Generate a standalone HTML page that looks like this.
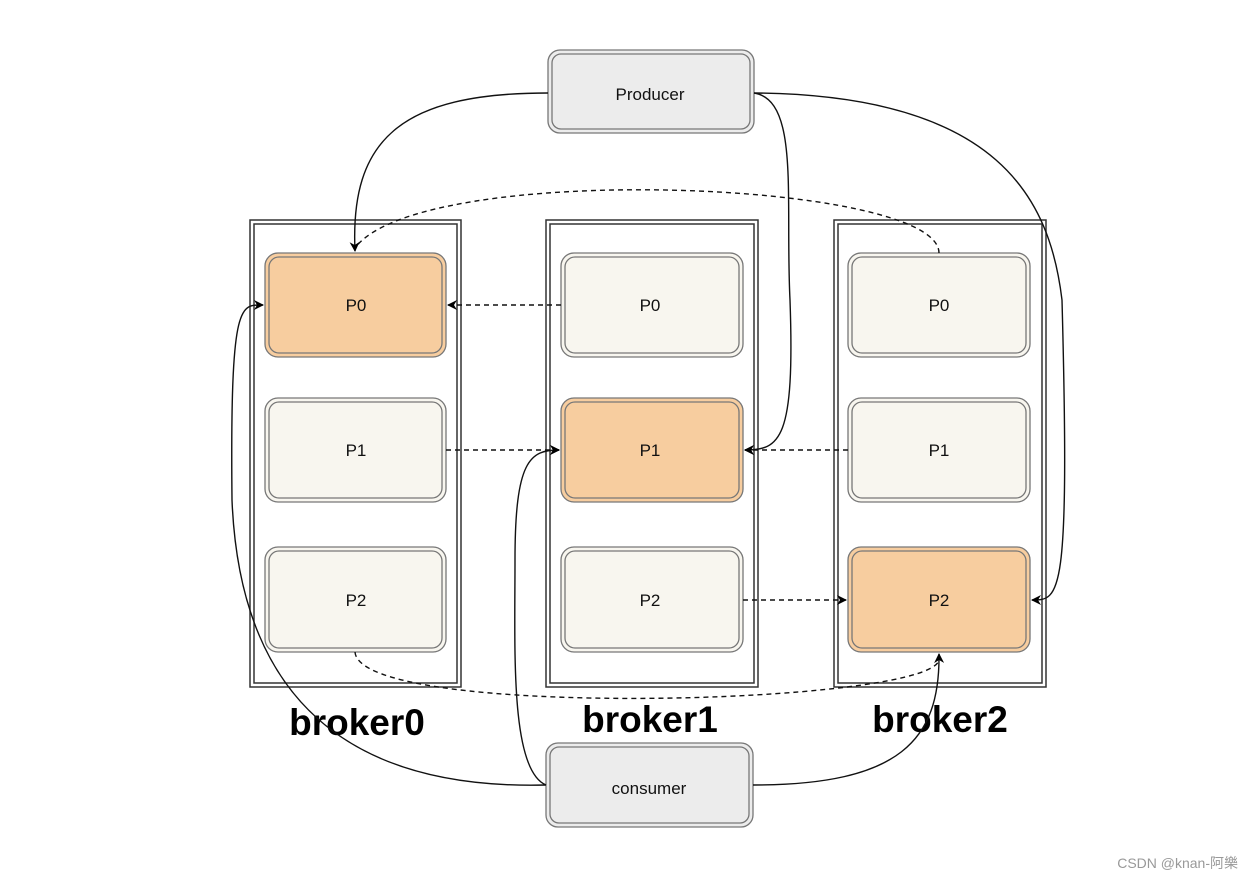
<!DOCTYPE html>
<html><head><style>body{margin:0;background:#fff}svg{display:block}text{font-family:"Liberation Sans",Arial,sans-serif}</style></head><body>
<svg width="1252" height="880" viewBox="0 0 1252 880" xmlns="http://www.w3.org/2000/svg">
<defs>
<marker id="a" markerWidth="10" markerHeight="10" refX="9" refY="5" orient="auto" markerUnits="userSpaceOnUse"><path d="M0,0 L10,5 L0,10 L3,5 Z" fill="#000"/></marker>
</defs>
<g fill="none" stroke="#333" stroke-width="1.5">
<rect x="250" y="220" width="211" height="467"/><rect x="254" y="224" width="203" height="459"/>
<rect x="546" y="220" width="212" height="467"/><rect x="550" y="224" width="204" height="459"/>
<rect x="834" y="220" width="212" height="467"/><rect x="838" y="224" width="204" height="459"/>
</g>
<g stroke="#777" stroke-width="1.3">
<rect x="548" y="50" width="206" height="83" rx="12" fill="#ececec"/><rect x="552" y="54" width="198" height="75" rx="9" fill="#ececec"/>
<rect x="546" y="743" width="207" height="84" rx="12" fill="#ececec"/><rect x="550" y="747" width="199" height="76" rx="9" fill="#ececec"/>
</g>
<g stroke="#777" stroke-width="1.3">
<g fill="#f7cd9f"><rect x="265" y="253" width="181" height="104" rx="13"/><rect x="269" y="257" width="173" height="96" rx="10"/></g>
<g fill="#f8f6ef"><rect x="265" y="398" width="181" height="104" rx="13"/><rect x="269" y="402" width="173" height="96" rx="10"/></g>
<g fill="#f8f6ef"><rect x="265" y="547" width="181" height="105" rx="13"/><rect x="269" y="551" width="173" height="97" rx="10"/></g>
<g fill="#f8f6ef"><rect x="561" y="253" width="182" height="104" rx="13"/><rect x="565" y="257" width="174" height="96" rx="10"/></g>
<g fill="#f7cd9f"><rect x="561" y="398" width="182" height="104" rx="13"/><rect x="565" y="402" width="174" height="96" rx="10"/></g>
<g fill="#f8f6ef"><rect x="561" y="547" width="182" height="105" rx="13"/><rect x="565" y="551" width="174" height="97" rx="10"/></g>
<g fill="#f8f6ef"><rect x="848" y="253" width="182" height="104" rx="13"/><rect x="852" y="257" width="174" height="96" rx="10"/></g>
<g fill="#f8f6ef"><rect x="848" y="398" width="182" height="104" rx="13"/><rect x="852" y="402" width="174" height="96" rx="10"/></g>
<g fill="#f7cd9f"><rect x="848" y="547" width="182" height="105" rx="13"/><rect x="852" y="551" width="174" height="97" rx="10"/></g>
</g>
<g font-size="17" text-anchor="middle" fill="#111">
<text x="650" y="100">Producer</text><text x="649" y="794">consumer</text>
<text x="356" y="311">P0</text><text x="356" y="456">P1</text><text x="356" y="606">P2</text>
<text x="650" y="311">P0</text><text x="650" y="456">P1</text><text x="650" y="606">P2</text>
<text x="939" y="311">P0</text><text x="939" y="456">P1</text><text x="939" y="606">P2</text>
</g>
<g font-size="37" font-weight="bold" text-anchor="middle" fill="#000">
<text x="357" y="735">broker0</text><text x="650" y="732">broker1</text><text x="940" y="732">broker2</text>
</g>
<g fill="none" stroke="#111" stroke-width="1.4" stroke-dasharray="5,4">
<path d="M939,253 C939,180 420,160 355,248"/>
<path d="M561,305 L448,305" marker-end="url(#a)"/>
<path d="M446,450 L559,450" marker-end="url(#a)"/>
<path d="M848,450 L745,450" marker-end="url(#a)"/>
<path d="M743,600 L846,600" marker-end="url(#a)"/>
<path d="M355,652 C360,720 930,705 939,660"/>
</g>
<g fill="none" stroke="#111" stroke-width="1.4">
<path d="M548,93 C400,93 350,140 355,251" marker-end="url(#a)"/>
<path d="M754,93 C800,100 785,200 790,300 C795,440 780,450 745,450" marker-end="url(#a)"/>
<path d="M754,93 C1000,95 1050,200 1062,300 C1070,600 1060,600 1032,600" marker-end="url(#a)"/>
<path d="M546,785 C350,790 240,700 232,500 C230,300 240,305 263,305" marker-end="url(#a)"/>
<path d="M546,785 C510,770 515,650 515,560 C515,460 530,450 559,450" marker-end="url(#a)"/>
<path d="M753,785 C900,785 940,740 939,654" marker-end="url(#a)"/>
</g>
<text x="1238" y="868" font-size="14" text-anchor="end" fill="#999" style="font-family:'Liberation Sans','Noto Sans CJK SC',sans-serif">CSDN @knan-阿樂</text>
</svg>
</body></html>
